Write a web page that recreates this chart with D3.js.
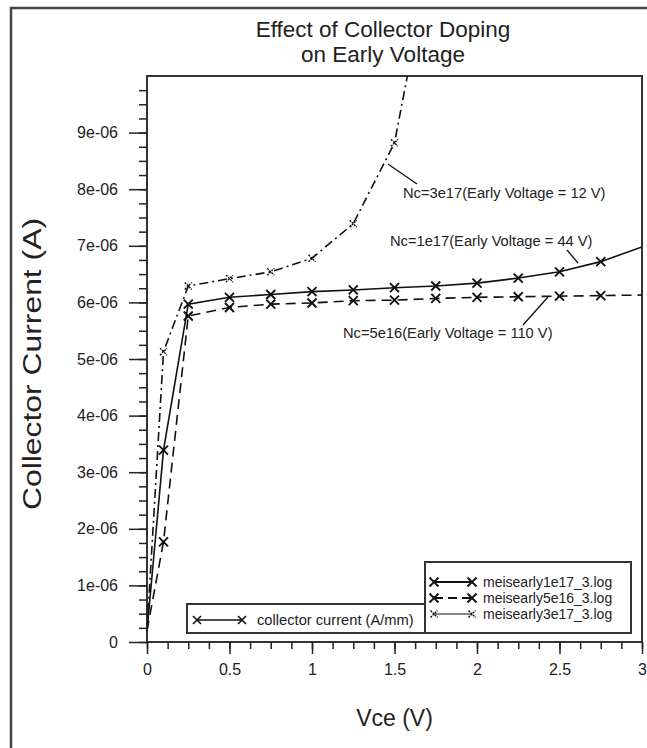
<!DOCTYPE html>
<html>
<head>
<meta charset="utf-8">
<script src="https://cdn.jsdelivr.net/npm/d3@7"></script>
<style>
	body { margin: 0; background: #fff; }
	svg { display: block; font-family: "Liberation Sans", Arial, Helvetica, sans-serif; }
</style>
</head>
<body>
<div id="vis"></div>
<script>

// Vce sweep points (V)
var vce = [0, 0.1, 0.25, 0.5, 0.75, 1.0, 1.25, 1.5, 1.75, 2.0, 2.25, 2.5, 2.75, 3.0];

// collector current (A)
var ic1e17 = [0.2e-6, 3.39e-6, 5.97e-6, 6.09e-6, 6.14e-6, 6.19e-6, 6.22e-6, 6.26e-6, 6.29e-6, 6.34e-6, 6.43e-6, 6.54e-6, 6.72e-6, 6.98e-6];
var ic5e16 = [0.2e-6, 1.77e-6, 5.76e-6, 5.91e-6, 5.97e-6, 5.99e-6, 6.03e-6, 6.04e-6, 6.07e-6, 6.09e-6, 6.10e-6, 6.11e-6, 6.12e-6, 6.13e-6];
var ic3e17 = [0.2e-6, 5.13e-6, 6.29e-6, 6.42e-6, 6.54e-6, 6.78e-6, 7.39e-6, 8.82e-6, 12.6e-6];

var seriesNames = ["meisearly1e17_3.log", "meisearly5e16_3.log", "meisearly3e17_3.log"];
var annotations = ["Nc=1e17(Early Voltage = 44 V)", "Nc=5e16(Early Voltage = 110 V)", "Nc=3e17(Early Voltage = 12 V)"];

var xTicks = [0, 0.5, 1, 1.5, 2, 2.5, 3];
var yTicks = [0, 1e-6, 2e-6, 3e-6, 4e-6, 5e-6, 6e-6, 7e-6, 8e-6, 9e-6];

var W = 647, H = 748;
var plot = {left: 147, top: 76, right: 642, bottom: 642};
var small = 14.7;

var svg = d3.select("#vis").append("svg")
	.attr("width", W)
	.attr("height", H);

// outer frame (runs off the right and bottom edge)
svg.append("rect")
	.attr("x", 11).attr("y", 8)
	.attr("width", 700).attr("height", 800)
	.attr("fill", "none")
	.attr("stroke", "#444")
	.attr("stroke-width", 2.5);

var x = d3.scaleLinear().domain([0, 3]).range([plot.left, plot.right]);
var y = d3.scaleLinear().domain([0, 1e-5]).range([plot.bottom, plot.top]);

// title
svg.append("text")
	.attr("x", 383).attr("y", 37)
	.attr("text-anchor", "middle")
	.attr("font-size", 22.5)
	.attr("fill", "#222")
	.text("Effect of Collector Doping");
svg.append("text")
	.attr("x", 383).attr("y", 62)
	.attr("text-anchor", "middle")
	.attr("font-size", 22.5)
	.attr("fill", "#222")
	.text("on Early Voltage");

svg.append("defs").append("clipPath").attr("id", "clip")
	.append("rect")
	.attr("x", plot.left).attr("y", plot.top)
	.attr("width", plot.right - plot.left)
	.attr("height", plot.bottom - plot.top);

// plot frame
svg.append("rect")
	.attr("x", plot.left).attr("y", plot.top)
	.attr("width", plot.right - plot.left)
	.attr("height", plot.bottom - plot.top)
	.attr("fill", "none")
	.attr("stroke", "#333")
	.attr("stroke-width", 2);

// x axis, minor ticks every 0.125
var xMinor = d3.range(0, 3.0001, 0.125);
svg.append("g")
	.attr("transform", "translate(0," + plot.bottom + ")")
	.call(d3.axisBottom(x).tickValues(xMinor).tickSize(7).tickFormat(""))
	.call(function (g) { g.select(".domain").remove(); g.selectAll("line").attr("stroke", "#222").attr("stroke-width", 1.5); });

svg.append("g")
	.attr("transform", "translate(0," + plot.bottom + ")")
	.call(d3.axisBottom(x).tickValues(xTicks).tickSize(12).tickPadding(10).tickFormat(d3.format("")))
	.call(function (g) {
		g.select(".domain").remove();
		g.selectAll("line").attr("stroke", "#222").attr("stroke-width", 1.5);
		g.selectAll("text").attr("font-size", 16).attr("fill", "#222").attr("font-family", null);
	});

// y axis, minor ticks every 2.5e-7
var yMinor = d3.range(0, 40).map(function (i) { return i * 2.5e-7; });
svg.append("g")
	.attr("transform", "translate(" + plot.left + ",0)")
	.call(d3.axisLeft(y).tickValues(yMinor).tickSize(8).tickFormat(""))
	.call(function (g) { g.select(".domain").remove(); g.selectAll("line").attr("stroke", "#222").attr("stroke-width", 1.5); });

svg.append("g")
	.attr("transform", "translate(" + plot.left + ",0)")
	.call(d3.axisLeft(y).tickValues(yTicks).tickSize(18).tickPadding(11)
		.tickFormat(function (d) {
			var k = Math.round(d / 1e-6);
			return k === 0 ? "0" : k + "e-06";
		}))
	.call(function (g) {
		g.select(".domain").remove();
		g.selectAll("line").attr("stroke", "#222").attr("stroke-width", 1.5);
		g.selectAll("text").attr("font-size", 16).attr("fill", "#222").attr("font-family", null);
	});

// axis titles
svg.append("text")
	.attr("x", (plot.left + plot.right) / 2)
	.attr("y", 726)
	.attr("text-anchor", "middle")
	.attr("font-size", 23)
	.attr("fill", "#222")
	.text("Vce (V)");

// the rotated label is drawn larger in the original
svg.append("text")
	.attr("transform", "translate(41,364) rotate(-90)")
	.attr("x", -146)
	.attr("font-size", 26)
	.attr("fill", "#222")
	.attr("textLength", 292)
	.attr("lengthAdjust", "spacingAndGlyphs")
	.text("Collector Current (A)");

// curves
var series = [
	{name: seriesNames[0], values: ic1e17, dash: null, width: 1.6, mark: 4.5, markW: 1.9, markDash: null},
	{name: seriesNames[1], values: ic5e16, dash: "10,6", width: 1.6, mark: 4.5, markW: 1.9, markDash: null},
	{name: seriesNames[2], values: ic3e17, dash: "9,4,2,4", width: 1.6, mark: 3.5, markW: 1.4, markDash: "2,1"}
];

var line = d3.line()
	.x(function (d) { return x(d[0]); })
	.y(function (d) { return y(d[1]); });

var curves = svg.append("g").attr("clip-path", "url(#clip)");

function cross (g, cx, cy, r, w, dash) {
	g.append("path")
		.attr("d", "M" + (cx - r) + "," + (cy - r) + "L" + (cx + r) + "," + (cy + r) +
			"M" + (cx - r) + "," + (cy + r) + "L" + (cx + r) + "," + (cy - r))
		.attr("stroke", "#111")
		.attr("stroke-width", w)
		.attr("stroke-dasharray", dash)
		.attr("fill", "none");
}

series.forEach(function (s) {
	var pts = s.values.map(function (v, i) { return [vce[i], v]; });
	curves.append("path")
		.datum(pts)
		.attr("d", line)
		.attr("fill", "none")
		.attr("stroke", "#111")
		.attr("stroke-width", s.width)
		.attr("stroke-dasharray", s.dash);
	pts.forEach(function (p, i) {
		if (i === 0 || p[0] >= 3) return;
		cross(curves, x(p[0]), y(p[1]), s.mark, s.markW, s.markDash);
	});
});

// annotations with leader lines
var notes = [
	{text: annotations[2], tx: 403, ty: 198, l: [[388, 164], [417, 184]]},
	{text: annotations[0], tx: 390, ty: 246, l: [[567, 250], [578, 263]]},
	{text: annotations[1], tx: 343, ty: 338, l: [[548, 297], [523, 325]]}
];
notes.forEach(function (n) {
	svg.append("line")
		.attr("x1", n.l[0][0]).attr("y1", n.l[0][1])
		.attr("x2", n.l[1][0]).attr("y2", n.l[1][1])
		.attr("stroke", "#111").attr("stroke-width", 1.3);
	svg.append("text")
		.attr("x", n.tx).attr("y", n.ty)
		.attr("font-size", small)
		.attr("fill", "#222")
		.text(n.text);
});

// legend 1
var lg1 = svg.append("g");
lg1.append("rect")
	.attr("x", 187).attr("y", 604).attr("width", 238).attr("height", 29)
	.attr("fill", "#fff").attr("stroke", "#333").attr("stroke-width", 2);
lg1.append("line").attr("x1", 197).attr("x2", 242).attr("y1", 620).attr("y2", 620)
	.attr("stroke", "#111").attr("stroke-width", 1.6);
cross(lg1, 197, 620, 4, 1.6, null);
cross(lg1, 242, 620, 4, 1.6, null);
lg1.append("text").attr("x", 257).attr("y", 625).attr("font-size", small).attr("fill", "#222")
	.text("collector current (A/mm)");

// legend 2
var lg2 = svg.append("g");
lg2.append("rect")
	.attr("x", 425).attr("y", 562).attr("width", 206).attr("height", 71)
	.attr("fill", "#fff").attr("stroke", "#333").attr("stroke-width", 2);
var legRows = [582, 598, 614];
series.forEach(function (s, i) {
	var ly = legRows[i];
	lg2.append("line").attr("x1", 434).attr("x2", 472).attr("y1", ly).attr("y2", ly)
		.attr("stroke", "#111")
		.attr("stroke-width", i === 2 ? 1 : 1.8)
		.attr("stroke-dasharray", i === 1 ? "9,5" : null);
	cross(lg2, 434, ly, s.mark, s.markW, s.markDash);
	cross(lg2, 472, ly, s.mark, s.markW, s.markDash);
	lg2.append("text").attr("x", 483).attr("y", ly + 5).attr("font-size", 14).attr("fill", "#222")
		.text(s.name);
});

</script>
</body>
</html>
